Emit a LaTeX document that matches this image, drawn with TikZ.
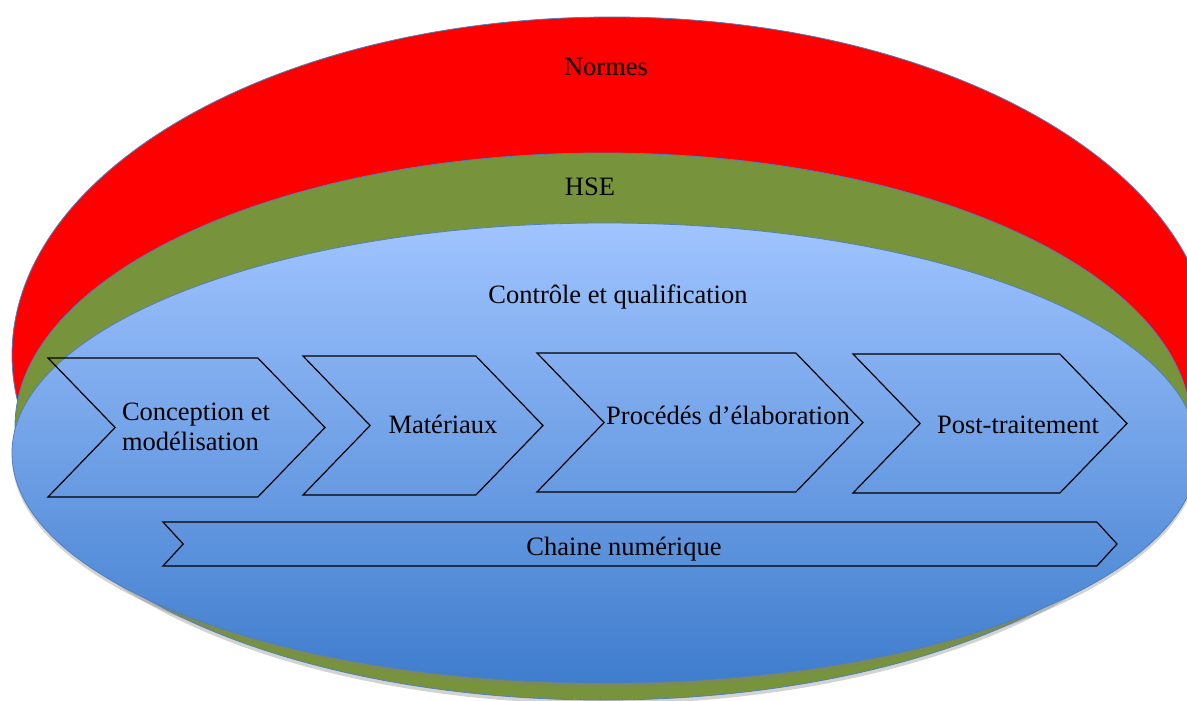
\documentclass[tikz,border=0pt]{standalone}
\usepackage{fontspec}
\setmainfont{Liberation Serif}
\usetikzlibrary{shapes.symbols,shadows}
\definecolor{normred}{HTML}{FF0000}
\definecolor{hsegreen}{HTML}{77933C}
\definecolor{ctrltop}{HTML}{A0C4FF}
\definecolor{ctrlbot}{HTML}{3F7DCD}
\definecolor{rimblue}{HTML}{4F81BD}
\begin{document}
\begin{tikzpicture}[x=1pt, y=-1pt,
               ring_style/.style={draw=rimblue, line width=0.8pt},
               chevron_style/.style={signal, signal from=west, signal to=east, draw=black, line width=1.2pt, inner sep=0pt},
               label_style/.style={font=\fontsize{26.5}{29.5}\selectfont, align=left, inner sep=0pt}]
                \useasboundingbox (0,0) rectangle (1187,701);
                \clip (0,0) rectangle (1187,701);

                % three nested rings
                \fill[ring_style, fill=normred] (612,355) ellipse [x radius=600pt, y radius=338pt];
                \fill[ring_style, fill=hsegreen, drop shadow={shadow xshift=0pt, shadow yshift=-4pt, opacity=.35}] (603,426.5) ellipse [x radius=588pt, y radius=273.5pt];
                \shade[ring_style, top color=ctrltop, bottom color=ctrlbot, drop shadow={shadow xshift=0pt, shadow yshift=-4pt, opacity=.35}] (605,453) ellipse [x radius=593pt, y radius=230pt];

                \node[label_style] (normes) at (606,67) {Normes};
                \node[label_style] (hse) at (590,187) {HSE};
                \node[label_style] (ctrl) at (618,297) {Contrôle et qualification};

                % process chain
                \node[chevron_style, minimum width=277pt, minimum height=139pt, signal pointer angle=92] (conception) at (186.5,427.5) {};
                \node[chevron_style, minimum width=240pt, minimum height=139pt, signal pointer angle=92] (materiaux) at (423,425.5) {};
                \node[chevron_style, minimum width=326pt, minimum height=139pt, signal pointer angle=92] (procedes) at (700,422.5) {};
                \node[chevron_style, minimum width=274pt, minimum height=139pt, signal pointer angle=92] (post) at (990,423.5) {};
                \node[chevron_style, minimum width=954pt, minimum height=44pt, signal pointer angle=95] (chaine) at (640,544) {};

                \node[label_style] (t_conception) at (196,427) {Conception et\\modélisation};
                \node[label_style] (t_materiaux) at (443,424) {Matériaux};
                \node[label_style] (t_procedes) at (728,415) {Procédés d’élaboration};
                \node[label_style] (t_post) at (1018,425) {Post-traitement};
                \node[label_style] (t_chaine) at (624,549) {Chaine numérique};
            \end{tikzpicture}
\end{document}
